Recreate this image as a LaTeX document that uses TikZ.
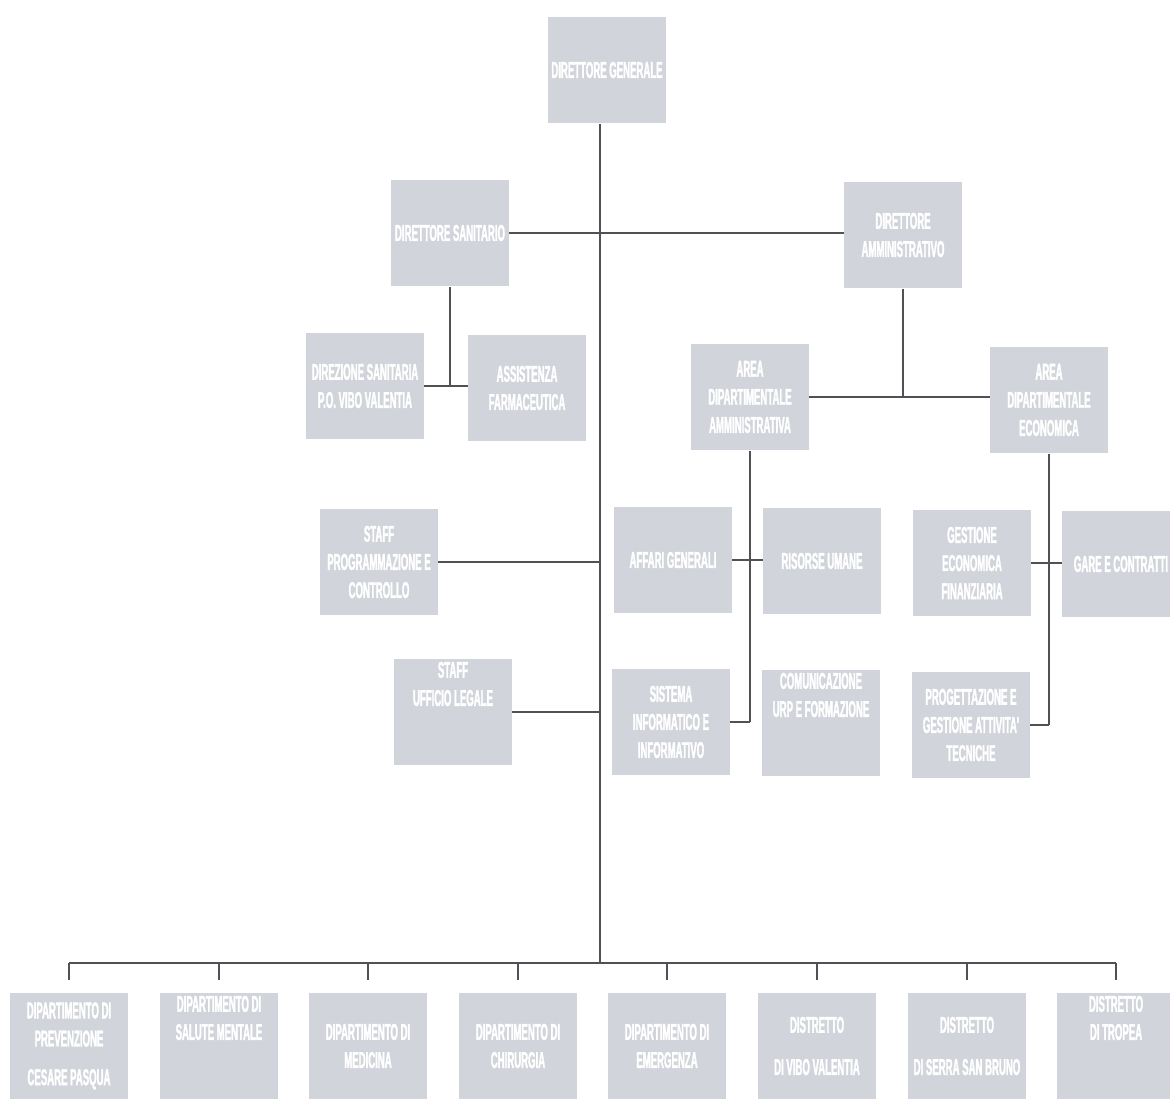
\documentclass[tikz,border=0pt]{standalone}
\usepackage{fontspec}
\newfontfamily\boxfont[FakeStretch=0.42,FakeBold=1.5]{Liberation Sans Bold}
\definecolor{boxgray}{RGB}{209,212,218}
\definecolor{linegray}{RGB}{80,80,85}

\begin{document}
\begin{tikzpicture}[x=0.02cm,y=-0.02cm,
  box/.style={fill=boxgray,text=white,minimum width=2.36cm,minimum height=2.14cm,
    align=center,inner sep=1pt,font=\boxfont\fontsize{13}{16}\selectfont},
  conn/.style={draw=linegray,line width=1.1pt}]
  \useasboundingbox (0,0) rectangle (1170,1104);
  % vertice
  \node[box] (dg) at (607,70) {DIRETTORE GENERALE};
  \node[box] (ds) at (450,233) {DIRETTORE SANITARIO};
  \node[box] (da) at (903,235) {DIRETTORE\\AMMINISTRATIVO};
  \node[box] (dsp) at (365,386) {DIREZIONE SANITARIA\\P.O. VIBO VALENTIA};
  \node[box] (af) at (527,388) {ASSISTENZA\\FARMACEUTICA};
  \node[box] (aa) at (750,397) {AREA\\DIPARTIMENTALE\\AMMINISTRATIVA};
  \node[box] (ae) at (1049,400) {AREA\\DIPARTIMENTALE\\ECONOMICA};
  % staff
  \node[box] (sp) at (379,562) {STAFF\\PROGRAMMAZIONE E\\CONTROLLO};
  \node[box] (sl) at (453,712) {STAFF\\UFFICIO LEGALE\\[16pt]};
  % uffici area amministrativa
  \node[box] (ag) at (673,560) {AFFARI GENERALI};
  \node[box] (ru) at (822,561) {RISORSE UMANE};
  \node[box] (si) at (671,722) {SISTEMA\\INFORMATICO E\\INFORMATIVO};
  \node[box] (cu) at (821,723) {COMUNICAZIONE\\URP E FORMAZIONE\\[16pt]};
  % uffici area economica
  \node[box] (ge) at (972,563) {GESTIONE\\ECONOMICA\\FINANZIARIA};
  \node[box] (gc) at (1121,564) {GARE E CONTRATTI};
  \node[box] (pg) at (971,725) {PROGETTAZIONE E\\GESTIONE ATTIVITA'\\TECNICHE};
  % dipartimenti e distretti
  \node[box] (d1) at (69,1046) {DIPARTIMENTO DI\\PREVENZIONE\\[6pt]CESARE PASQUA};
  \node[box] (d2) at (219,1046) {DIPARTIMENTO DI\\SALUTE MENTALE\\[16pt]};
  \node[box] (d3) at (368,1046) {DIPARTIMENTO DI\\MEDICINA};
  \node[box] (d4) at (518,1046) {DIPARTIMENTO DI\\CHIRURGIA};
  \node[box] (d5) at (667,1046) {DIPARTIMENTO DI\\EMERGENZA};
  \node[box] (d6) at (817,1046) {DISTRETTO\\[8pt]DI VIBO VALENTIA};
  \node[box] (d7) at (967,1046) {DISTRETTO\\[8pt]DI SERRA SAN BRUNO};
  \node[box] (d8) at (1116,1046) {DISTRETTO\\DI TROPEA\\[16pt]};
  % collegamenti
  \coordinate (bus) at (600,963);
  \draw[conn] (dg.south -| bus) -- (bus);
  \draw[conn] (ds.east) -- (ds.east -| da.west);
  \draw[conn] (ds.south) -- (ds.south |- dsp.east);
  \draw[conn] (dsp.east) -- (dsp.east -| af.west);
  \draw[conn] (da.south) -- (da.south |- aa.east);
  \draw[conn] (aa.east) -- (aa.east -| ae.west);
  \draw[conn] (sp.east) -- (sp.east -| bus);
  \draw[conn] (sl.east) -- (sl.east -| bus);
  \draw[conn] (aa.south) -- (aa.south |- si.east);
  \draw[conn] (ag.east) -- (ag.east -| ru.west);
  \draw[conn] (si.east) -- (si.east -| aa.south);
  \draw[conn] (ae.south) -- (ae.south |- pg.east);
  \draw[conn] (ge.east) -- (ge.east -| gc.west);
  \draw[conn] (pg.east) -- (pg.east -| ae.south);
  \draw[conn] (d1.north |- bus) -- (d8.north |- bus);
  \draw[conn,shorten >=7pt] (d1.north |- bus) -- (d1.north);
  \draw[conn,shorten >=7pt] (d2.north |- bus) -- (d2.north);
  \draw[conn,shorten >=7pt] (d3.north |- bus) -- (d3.north);
  \draw[conn,shorten >=7pt] (d4.north |- bus) -- (d4.north);
  \draw[conn,shorten >=7pt] (d5.north |- bus) -- (d5.north);
  \draw[conn,shorten >=7pt] (d6.north |- bus) -- (d6.north);
  \draw[conn,shorten >=7pt] (d7.north |- bus) -- (d7.north);
  \draw[conn,shorten >=7pt] (d8.north |- bus) -- (d8.north);
\end{tikzpicture}
\end{document}
